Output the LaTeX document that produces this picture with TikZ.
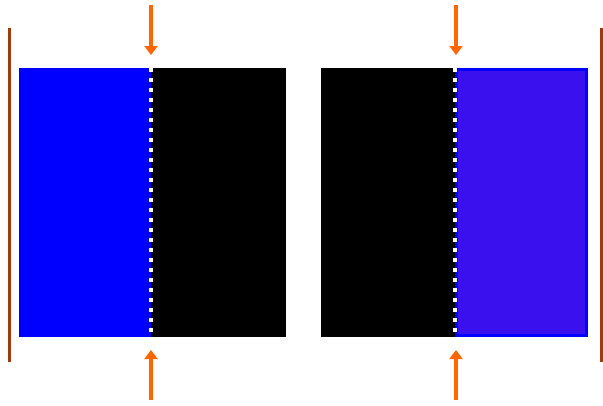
\documentclass[tikz,border=0pt]{standalone}
\usetikzlibrary{arrows.meta}
\definecolor{arrorange}{RGB}{255,102,0}
\definecolor{wallbrown}{RGB}{160,58,10}
\definecolor{rblue}{RGB}{58,16,238}
\begin{document}
\begin{tikzpicture}[x=1pt,y=-1pt,
  slab/.style={inner sep=0pt,outer sep=0pt,minimum height=269pt},
  bluefill/.style={slab,fill=blue},
  blackfill/.style={slab,fill=black},
  rbluefill/.style={slab,fill=rblue,draw=blue,line width=3pt,minimum height=266pt},
  interface/.style={draw=white,line width=3.5pt,dash pattern=on 4pt off 6pt},
  push/.style={draw=arrorange,line width=4pt,-{Triangle[length=9pt,width=13pt]}},
  wall/.style={draw=wallbrown,line width=3pt}]
\useasboundingbox (0,0) rectangle (603,405);
\node[bluefill,minimum width=132pt] (lb) at (85,202.5) {};
\node[blackfill,minimum width=135pt] (lk) at (218.5,202.5) {};
\node[blackfill,minimum width=134pt] (rk) at (388,202.5) {};
\node[rbluefill,minimum width=130pt] (rb) at (521.5,202.5) {};
\draw[interface] (lk.north west) -- (lk.south west);
\draw[interface] (rk.north east) -- (rk.south east);
\coordinate (a1s) at (151,5);  \coordinate (a1e) at (151,55);
\coordinate (a2s) at (151,400);\coordinate (a2e) at (151,350);
\coordinate (a3s) at (456,5);  \coordinate (a3e) at (456,55);
\coordinate (a4s) at (456,400);\coordinate (a4e) at (456,350);
\draw[push] (a1s) -- (a1e);
\draw[push] (a2s) -- (a2e);
\draw[push] (a3s) -- (a3e);
\draw[push] (a4s) -- (a4e);
\coordinate (w1t) at (9,28);   \coordinate (w1b) at (9,362);
\coordinate (w2t) at (601.5,28); \coordinate (w2b) at (601.5,362);
\draw[wall] (w1t) -- (w1b);
\draw[wall] (w2t) -- (w2b);
\end{tikzpicture}
\end{document}
